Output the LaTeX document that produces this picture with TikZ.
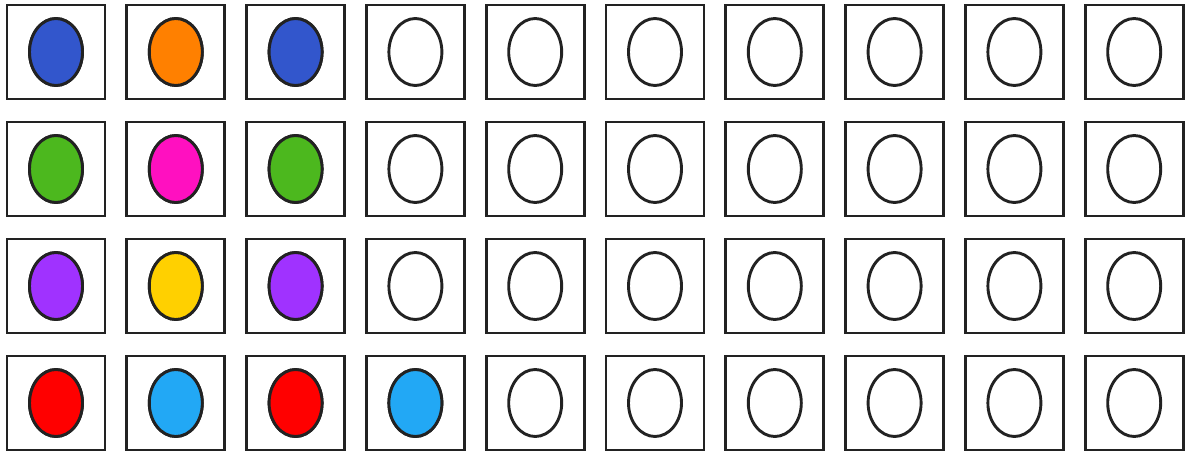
\documentclass[tikz,border=0pt]{standalone}
\usepackage{xcolor}
\usepackage{tikz}
\usetikzlibrary{positioning,shapes.geometric}
\definecolor{pegblue}{RGB}{50,86,204}
\definecolor{pegorange}{RGB}{255,128,0}
\definecolor{peggreen}{RGB}{76,184,30}
\definecolor{pegpink}{RGB}{255,16,192}
\definecolor{pegpurple}{RGB}{160,50,255}
\definecolor{pegyellow}{RGB}{255,208,0}
\definecolor{pegred}{RGB}{255,0,0}
\definecolor{pegsky}{RGB}{34,168,245}
\definecolor{edge}{RGB}{34,34,34}
\tikzset{
  hole/.style ={draw=edge, line width=2.9pt, rectangle, minimum width=98pt,
                minimum height=94pt, inner sep=0pt},
  peg/.style  ={draw=edge, line width=2.9pt, ellipse, minimum width=53pt,
                minimum height=67pt, inner sep=0pt, fill=white},
}

\begin{document}
\begin{tikzpicture}[x=1pt,y=-1pt]
\useasboundingbox (0,0) rectangle (1186,452);
% board: 4 rows, 10 holes each
\foreach \r in {0,...,3}
  \foreach \c in {0,...,9}{
    \node[hole] (hole-\r-\c) at ({56+119.8*\c},{52+117*\r}) {};
    \node[peg] (peg-\r-\c) at (hole-\r-\c.center) {};
  }
% coloured pegs
\foreach \r/\c/\col in {0/0/pegblue,0/1/pegorange,0/2/pegblue,
                        1/0/peggreen,1/1/pegpink,1/2/peggreen,
                        2/0/pegpurple,2/1/pegyellow,2/2/pegpurple,
                        3/0/pegred,3/1/pegsky,3/2/pegred,3/3/pegsky}
  \node[peg,fill=\col] at (hole-\r-\c.center) {};
\end{tikzpicture}
\end{document}
